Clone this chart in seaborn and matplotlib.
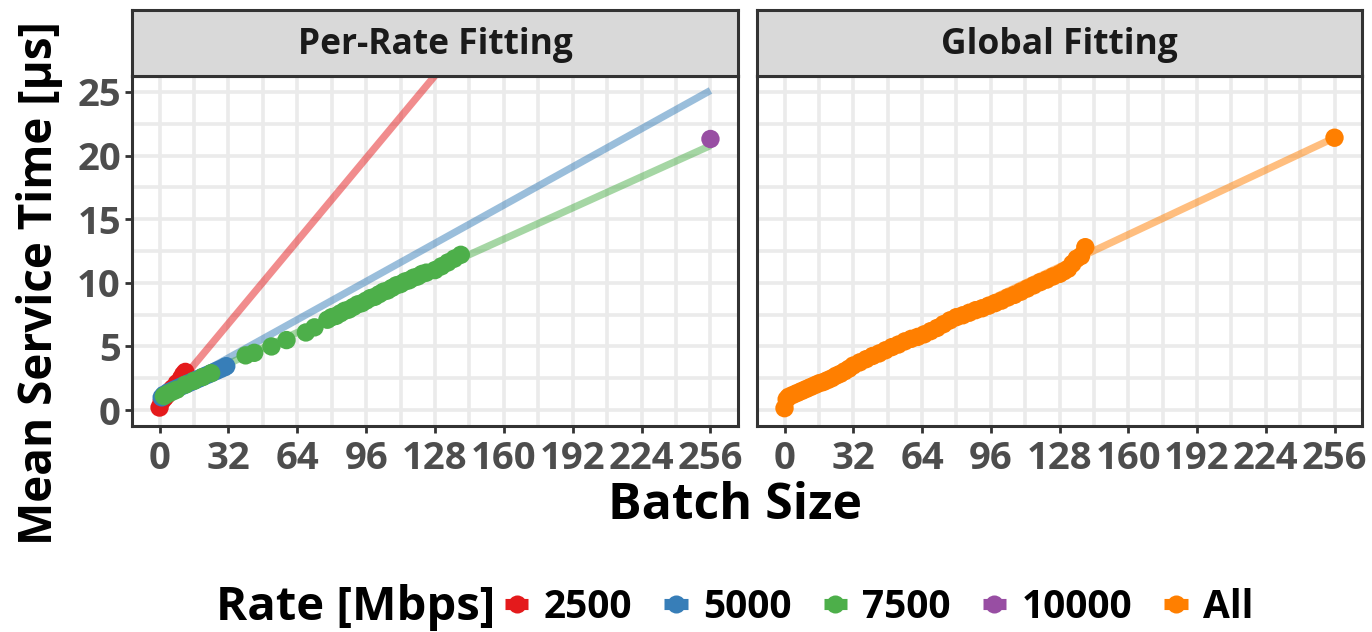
import numpy as np
import pandas as pd
import matplotlib
matplotlib.use("Agg")
import matplotlib.pyplot as plt
from matplotlib.lines import Line2D
import seaborn as sns

# ---------------------------------------------------------------- data
rate_levels = ["2500", "5000", "7500", "10000", "All"]
rate_colors = ["#E41A1C", "#377EB8", "#4DAF4A", "#984EA3", "#FF7F00"]

batch_2500 = [0, 1, 2, 3, 4, 5, 6, 8, 10, 11, 12]
time_2500 = [0.2, 0.7, 0.9, 1.1, 1.3, 1.5, 1.7, 2.1, 2.5, 2.8, 3.0]

batch_5000 = [1, 2, 4, 6, 8, 10, 12, 14, 16, 18, 20, 22, 24, 26, 28, 30, 31]
time_5000 = [1.0, 1.2, 1.4, 1.55, 1.7, 1.85, 2.0, 2.15, 2.3, 2.45, 2.6,
             2.75, 2.9, 3.05, 3.2, 3.35, 3.45]

batch_7500 = [2, 3, 4, 6, 8, 12, 16, 20, 24, 40, 44, 52, 59, 68, 72,
              78, 80, 82, 84, 86, 88, 90, 92, 94, 96, 98, 100, 102, 104,
              106, 108, 110, 112, 114, 116, 118, 120, 122, 124,
              128, 131, 134, 137, 140]
time_7500 = [1.1, 1.2, 1.3, 1.45, 1.6, 2.0, 2.3, 2.6, 2.9, 4.3, 4.5, 5.0, 5.5, 6.1, 6.5,
             7.1, 7.3, 7.4, 7.6, 7.8, 7.9, 8.1, 8.3, 8.4, 8.6, 8.8, 8.9, 9.1, 9.3,
             9.4, 9.6, 9.8, 9.9, 10.1, 10.2, 10.4, 10.5, 10.7, 10.8,
             11.0, 11.3, 11.6, 11.9, 12.2]

batch_10000 = [256]
time_10000 = [21.3]

batch_all = [0, 1, 2, 4, 6, 8, 10, 12, 14, 16, 18, 20, 22, 24, 26, 28, 30, 32,
             35, 38, 41, 44, 47, 50, 53, 56, 59, 62, 65, 68, 71, 74, 77, 80,
             83, 86, 89, 92, 95, 98, 101, 104, 107, 110, 113, 116, 119, 122,
             125, 128, 130, 132, 134, 136, 138, 140, 256]
time_all = [0.15, 0.85, 1.05, 1.2, 1.35, 1.5, 1.65, 1.8, 1.95, 2.1, 2.2, 2.35, 2.5,
            2.7, 2.85, 3.05, 3.25, 3.5,
            3.75, 4.0, 4.25, 4.45, 4.7, 4.95, 5.15, 5.4, 5.6, 5.75, 5.95, 6.2,
            6.45, 6.75, 7.05, 7.3, 7.45, 7.65, 7.85, 8.0, 8.2, 8.4, 8.6, 8.85,
            9.05, 9.3, 9.55, 9.8, 10.05, 10.25, 10.5, 10.7,
            10.9, 11.1, 11.5, 11.9, 12.1, 12.8, 21.4]

# linear model per group: service time = intercept + slope * batch size
fit_groups = ["2500", "5000", "7500", "All"]
fit_intercept = [0.3, 1.1, 1.2, 1.1]
fit_slope = [0.203, 0.0938, 0.0765, 0.0793]

x_ticks = [0, 32, 64, 96, 128, 160, 192, 224, 256]
y_ticks = [0, 5, 10, 15, 20, 25]
panel_titles = ["Per-Rate Fitting", "Global Fitting"]

# ---------------------------------------------------------------- frames
per_rate = pd.concat([
    pd.DataFrame({"batch": batch_2500, "time": time_2500, "rate": "2500"}),
    pd.DataFrame({"batch": batch_5000, "time": time_5000, "rate": "5000"}),
    pd.DataFrame({"batch": batch_7500, "time": time_7500, "rate": "7500"}),
    pd.DataFrame({"batch": batch_10000, "time": time_10000, "rate": "10000"}),
], ignore_index=True)
global_pts = pd.DataFrame({"batch": batch_all, "time": time_all, "rate": "All"})

fit_x = [x_ticks[0], x_ticks[-1]]
fits = pd.concat([
    pd.DataFrame({"batch": fit_x,
                  "time": [b + s * x for x in fit_x],
                  "rate": g})
    for g, b, s in zip(fit_groups, fit_intercept, fit_slope)
], ignore_index=True)

palette = dict(zip(rate_levels, rate_colors))

# ---------------------------------------------------------------- style
sns.set_theme(style="white")
plt.rcParams["font.family"] = ["Open Sans", "DejaVu Sans"]
plt.rcParams["font.weight"] = "bold"
plt.rcParams["lines.solid_capstyle"] = "butt"

W, H = 1372, 632
fig = plt.figure(figsize=(W / 100, H / 100), dpi=100)

def fx(px):
    return px / W

def fy(py):
    return 1 - py / H

panel_top, panel_bot, strip_top = 76, 426, 10
panels_px = [(132, 738), (757, 1362)]

border = "#333333"
grid_c = "#EBEBEB"
tick_c = "#4D4D4D"

axes = []
for i, (l, r) in enumerate(panels_px):
    ax = fig.add_axes([fx(l), fy(panel_bot), fx(r - l), fy(panel_top) - fy(panel_bot)])
    axes.append(ax)
    strip = fig.add_axes([fx(l), fy(panel_top), fx(r - l), fy(strip_top) - fy(panel_top)])
    strip.set_facecolor("#D9D9D9")
    strip.set_xticks([])
    strip.set_yticks([])
    for sp in strip.spines.values():
        sp.set_color(border)
        sp.set_linewidth(2.2)
    strip.text(0.5, 0.47, panel_titles[i], ha="center", va="center",
               fontsize=25.5, fontweight="bold", color="#1A1A1A",
               transform=strip.transAxes)

axL, axR = axes

# fitted lines under the measurements
sub = fits[fits["rate"] != "All"]
sns.lineplot(data=sub, x="batch", y="time", hue="rate", palette=palette,
             hue_order=fit_groups[:3], linewidth=5.2, alpha=0.5,
             legend=False, ax=axL, estimator=None, sort=True)
sns.scatterplot(data=per_rate, x="batch", y="time", hue="rate", palette=palette,
                hue_order=rate_levels[:4], s=175, edgecolor="none", linewidth=0,
                legend=False, ax=axL, zorder=3)

sns.lineplot(data=fits[fits["rate"] == "All"], x="batch", y="time", hue="rate",
             palette=palette, linewidth=5.2, alpha=0.5, legend=False, ax=axR,
             estimator=None)
sns.scatterplot(data=global_pts, x="batch", y="time", hue="rate", palette=palette,
                s=175, edgecolor="none", linewidth=0, legend=False, ax=axR, zorder=3)

x_minor = [(a + b) / 2 for a, b in zip(x_ticks[:-1], x_ticks[1:])]
y_minor = [(a + b) / 2 for a, b in zip(y_ticks[:-1], y_ticks[1:])]

for ax in axes:
    ax.set_xlim(-12.8, 268.8)
    ax.set_ylim(-1.25, 26.25)
    ax.set_xticks(x_ticks)
    ax.set_xticks(x_minor, minor=True)
    ax.set_yticks(y_ticks)
    ax.set_yticks(y_minor, minor=True)
    ax.set_xticklabels([str(t) for t in x_ticks])
    ax.grid(which="both", color=grid_c, linewidth=2.6)
    ax.set_axisbelow(True)
    ax.set_xlabel("")
    ax.set_ylabel("")
    ax.set_facecolor("white")
    for sp in ax.spines.values():
        sp.set_color(border)
        sp.set_linewidth(2.2)
        sp.set_zorder(5)
    ax.tick_params(which="major", length=5, width=2, color=border,
                   labelsize=27.5, labelcolor=tick_c, pad=3, bottom=True, left=True)
    ax.tick_params(axis="x", which="major", pad=5)
    ax.tick_params(which="minor", length=0)
    for lab in ax.get_xticklabels() + ax.get_yticklabels():
        lab.set_fontweight("bold")

axL.set_yticklabels([str(t) for t in y_ticks])
axR.tick_params(axis="y", which="both", left=False, labelleft=False)

fig.text(fx(40), fy(283), "Mean Service Time [μs]", rotation=90,
         ha="center", va="center", fontsize=33, fontweight="bold", color="black")
fig.text(fx(735), fy(519), "Batch Size", ha="center", va="baseline",
         fontsize=36, fontweight="bold", color="black")

# legend
fig.text(fx(216), fy(620), "Rate [Mbps]", ha="left", va="baseline",
         fontsize=34, fontweight="bold", color="black")
handles = [Line2D([0], [0], color=c, linewidth=8, alpha=0.5,
                  marker="o", markersize=13, markerfacecolor=c,
                  markeredgewidth=0, solid_capstyle="butt")
           for c in rate_colors]
leg = fig.legend(handles, rate_levels, loc="center left",
                 bbox_to_anchor=(fx(505), fy(607)), ncol=5, frameon=False,
                 handlelength=0.6, handletextpad=0.4, columnspacing=0.82,
                 borderpad=0, borderaxespad=0,
                 prop={"size": 28, "weight": "bold"})
for t in leg.get_texts():
    t.set_color("black")
# keep the marker opaque over the translucent segment
for h in leg.legend_handles:
    h.set_alpha(None)

fig.savefig("out.png", dpi=100)
